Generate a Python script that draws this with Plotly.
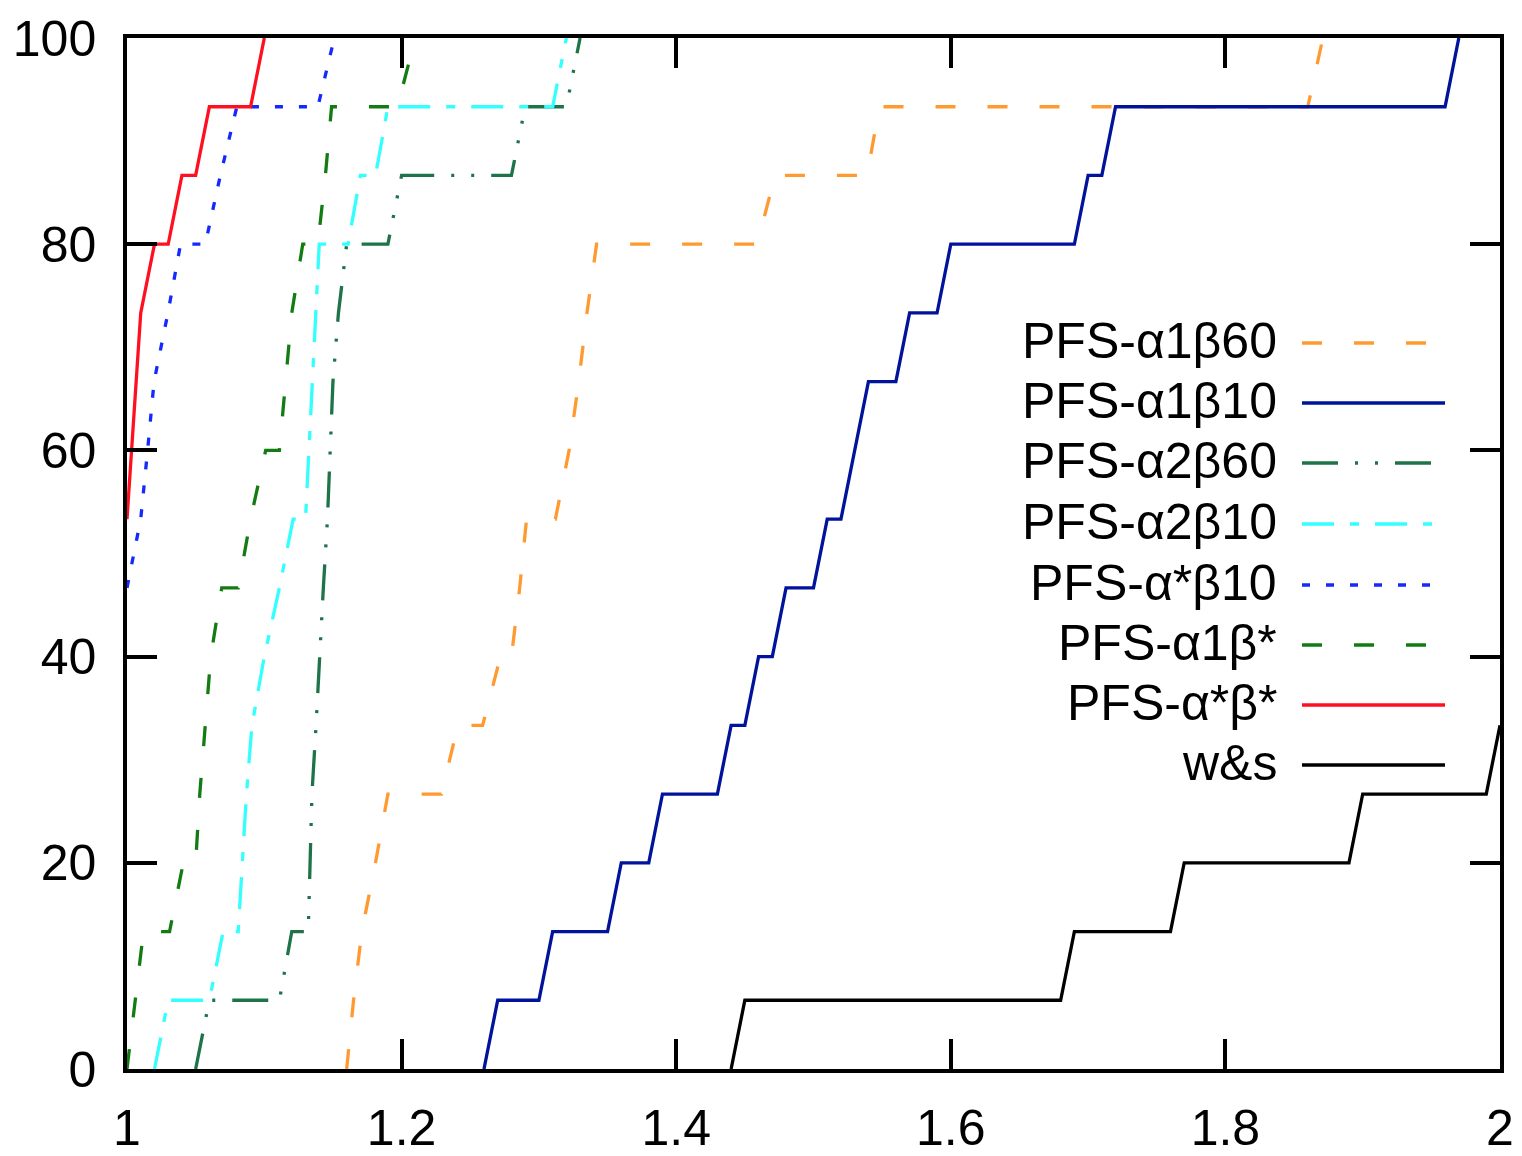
import plotly.graph_objects as go

# ---- data ----
tau_a1b60 = [1.16, 1.165, 1.171, 1.181, 1.19, 1.229, 1.241, 1.259, 1.272, 1.28, 1.286, 1.291, 1.312, 1.322, 1.329, 1.335, 1.342, 1.459, 1.472, 1.539, 1.548, 1.86, 1.871]
rho_a1b60 = [0, 6.67, 13.33, 20, 26.67, 26.67, 33.33, 33.33, 40, 40, 46.67, 53.33, 53.33, 60, 66.67, 73.33, 80, 80, 86.67, 86.67, 93.33, 93.33, 100]

tau_a1b10 = [1.26, 1.27, 1.30, 1.31, 1.35, 1.36, 1.38, 1.39, 1.43, 1.44, 1.45, 1.46, 1.47, 1.48, 1.50, 1.51, 1.52, 1.53, 1.54, 1.56, 1.57, 1.59, 1.60, 1.69, 1.70, 1.71, 1.72, 1.96, 1.97]
rho_a1b10 = [0, 6.67, 6.67, 13.33, 13.33, 20, 20, 26.67, 26.67, 33.33, 33.33, 40, 40, 46.67, 46.67, 53.33, 53.33, 60, 66.67, 66.67, 73.33, 73.33, 80, 80, 86.67, 86.67, 93.33, 93.33, 100]

tau_a2b60 = [1.05, 1.06, 1.111, 1.12, 1.132, 1.1347, 1.1377, 1.1402, 1.143, 1.146, 1.148, 1.150, 1.154, 1.160, 1.19, 1.20, 1.28, 1.29, 1.32, 1.33]
rho_a2b60 = [0, 6.67, 6.67, 13.33, 13.33, 26.67, 33.33, 40, 46.67, 53.33, 60, 66.67, 73.33, 80, 80, 86.67, 86.67, 93.33, 93.33, 100]

tau_a2b10 = [1.02, 1.03, 1.06, 1.07, 1.081, 1.084, 1.087, 1.091, 1.10, 1.111, 1.121, 1.13, 1.1325, 1.1355, 1.138, 1.14, 1.161, 1.17, 1.181, 1.19, 1.31, 1.32]
rho_a2b10 = [0, 6.67, 6.67, 13.33, 13.33, 20, 26.67, 33.33, 40, 46.67, 53.33, 53.33, 60, 66.67, 73.33, 80, 80, 86.67, 86.67, 93.33, 93.33, 100]

tau_asb10 = [1.0, 1.010, 1.015, 1.0197, 1.0298, 1.039, 1.057, 1.068, 1.080, 1.139, 1.151]
rho_asb10 = [46.67, 53.33, 60, 66.67, 73.33, 80, 80, 86.67, 93.33, 93.33, 100]

tau_a1bs = [1.0, 1.006, 1.012, 1.031, 1.041, 1.050, 1.053, 1.057, 1.061, 1.069, 1.081, 1.09, 1.101, 1.111, 1.1155, 1.120, 1.128, 1.139, 1.1445, 1.149, 1.197, 1.21]
rho_a1bs = [0, 6.67, 13.33, 13.33, 20, 20, 26.67, 33.33, 40, 46.67, 46.67, 53.33, 60, 60, 66.67, 73.33, 80, 80, 86.67, 93.33, 93.33, 100]

tau_asbs = [1.0, 1.01, 1.02, 1.03, 1.04, 1.05, 1.06, 1.09, 1.10]
rho_asbs = [53.33, 73.33, 80, 80, 86.67, 86.67, 93.33, 93.33, 100]

tau_ws = [1.44, 1.45, 1.68, 1.69, 1.76, 1.77, 1.89, 1.90, 1.99, 2.00]
rho_ws = [0, 6.67, 6.67, 13.33, 13.33, 20, 20, 26.67, 26.67, 33.33]

series_names = ["PFS-α1β60", "PFS-α1β10", "PFS-α2β60", "PFS-α2β10",
                "PFS-α*β10", "PFS-α1β*", "PFS-α*β*", "w&s"]
x_ticks = [1, 1.2, 1.4, 1.6, 1.8, 2]
x_tick_labels = ["1", "1.2", "1.4", "1.6", "1.8", "2"]
y_ticks = [0, 20, 40, 60, 80, 100]

# ---- styles ----
styles = [
    dict(color="#ff9a30", dash="20px,32px"),
    dict(color="#00139a", dash="solid"),
    dict(color="#1e7448", dash="36px,17px,3px,17px,3px,17px"),
    dict(color="#33ffff", dash="32px,16px,9px,16px"),
    dict(color="#1428ff", dash="8px,16px"),
    dict(color="#127c12", dash="20px,32px"),
    dict(color="#ff1020", dash="solid"),
    dict(color="#000000", dash="solid"),
]
data = [
    (tau_a1b60, rho_a1b60), (tau_a1b10, rho_a1b10), (tau_a2b60, rho_a2b60),
    (tau_a2b10, rho_a2b10), (tau_asb10, rho_asb10), (tau_a1bs, rho_a1bs),
    (tau_asbs, rho_asbs), (tau_ws, rho_ws),
]

LW = 3.3
FONT = "Liberation Sans, Arial"
FS = 50

fig = go.Figure()
for name, (xs, ys), st in zip(series_names, data, styles):
    fig.add_trace(go.Scatter(x=xs, y=ys, mode="lines", name=name,
                             line=dict(color=st["color"], width=LW, dash=st["dash"])))

W, H = 1522, 1156
L, R, T, B = 127, 22, 38, 87
pw, ph = W - L - R, H - T - B

def px_to_paper_x(px):
    return (px - L) / pw

def px_to_paper_y(py):
    return (H - B - py) / ph

# manual gnuplot-style key: text right-aligned, sample on the right
key_rows = [343, 403, 463, 524, 585, 645, 705, 765]
for name, st, ry in zip(series_names, styles, key_rows):
    yp = px_to_paper_y(ry)
    fig.add_annotation(x=px_to_paper_x(1279), y=px_to_paper_y(ry - 2), xref="paper", yref="paper",
                       text=name, showarrow=False, xanchor="right", yanchor="middle",
                       font=dict(size=FS, color="black", family=FONT))
    fig.add_shape(type="line", xref="paper", yref="paper",
                  x0=px_to_paper_x(1302), x1=px_to_paper_x(1445), y0=yp, y1=yp,
                  line=dict(color=st["color"], width=LW, dash=st["dash"]))

axis_common = dict(showline=True, linewidth=3.5, linecolor="black", mirror="ticks",
                   ticks="inside", ticklen=30, tickwidth=3.5, tickcolor="black",
                   showgrid=False, zeroline=False, automargin=False,
                   tickfont=dict(size=FS, color="black", family=FONT))

fig.update_layout(
    width=W, height=H,
    margin=dict(l=L, r=R, t=T, b=B, pad=0, autoexpand=False),
    plot_bgcolor="white", paper_bgcolor="white",
    showlegend=False,
    xaxis=dict(range=[1, 2], tickvals=x_ticks, ticktext=x_tick_labels,
               ticklabelstandoff=12, **axis_common),
    yaxis=dict(range=[0, 100], tickvals=y_ticks, ticklabelstandoff=17, **axis_common),
)

fig.write_html("out.html")
